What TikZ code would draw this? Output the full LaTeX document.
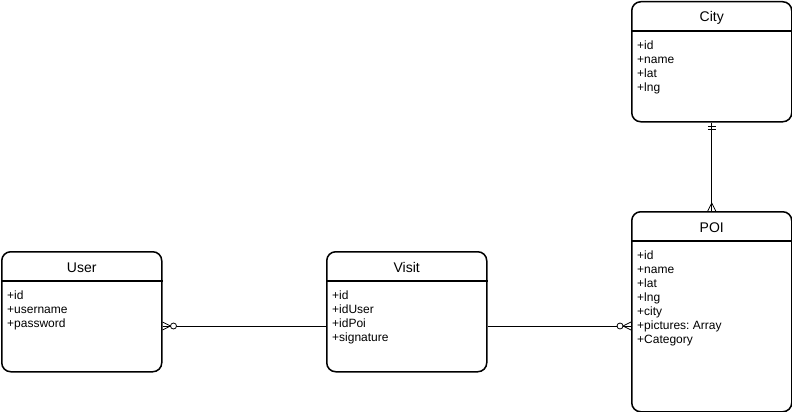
\documentclass[tikz,border=0pt]{standalone}
\usepackage{fontspec}
\setmainfont{Liberation Sans}
\usetikzlibrary{calc}
\frenchspacing
\begin{document}
\begin{tikzpicture}[x=1pt,y=-1pt,
  entity/.style={draw=black, fill=white, line width=1.5pt, rounded corners=9pt, minimum width=160pt, anchor=north west, inner sep=0pt},
  ttl/.style={font=\fontsize{14}{16}\selectfont, anchor=center, inner sep=0pt},
  attrs/.style={font=\fontsize{12}{14}\selectfont, align=left, anchor=north west, inner sep=0pt},
  sep/.style={line width=1.5pt},
  conn/.style={line width=0.8pt, line join=miter}]
\useasboundingbox (0,0) rectangle (792,412);
\fill[white] (0,0) rectangle (792,412);

% entities
\node[entity, minimum height=120pt] (user)  at (1,251)   {};
\node[entity, minimum height=120pt] (visit) at (326,251) {};
\node[entity, minimum height=120pt] (city)  at (631,1)   {};
\node[entity, minimum height=200pt] (poi)   at (631,211) {};

\foreach \e in {user,visit,city,poi}{
  \draw[sep] ([yshift=-30pt]\e.north west) -- ([yshift=-30pt]\e.north east);
}

\node[ttl] (usert)  at ([yshift=-16.5pt]user.north)  {User};
\node[ttl] (visitt) at ([yshift=-16.5pt]visit.north) {Visit};
\node[ttl] (cityt)  at ([yshift=-16.5pt]city.north)  {City};
\node[ttl] (poit)   at ([yshift=-16.5pt]poi.north)   {POI};

\node[attrs] (usera)  at ([xshift=6pt,yshift=-40pt]user.north west)  {+id\\+username\\+password};
\node[attrs] (visita) at ([xshift=6pt,yshift=-40pt]visit.north west) {+id\\+idUser\\+idPoi\\+signature};
\node[attrs] (citya)  at ([xshift=6pt,yshift=-40pt]city.north west)  {+id\\+name\\+lat\\+lng};
\node[attrs] (poia)   at ([xshift=6pt,yshift=-40pt]poi.north west)   {+id\\+name\\+lat\\+lng\\+city\\+pictures: Array\\+Category};

% User -- Visit (zero or many at User)
\coordinate (ue) at ([yshift=-75pt]user.north east);
\draw[conn] (ue) -- (ue -| visit.west);
\draw[conn] ($(ue)+(0,-4)$) -- ($(ue)+(8,0)$) -- ($(ue)+(0,4)$);
\draw[conn, fill=white] ($(ue)+(11,0)$) circle[radius=3pt];

% Visit -- POI (zero or many at POI)
\coordinate (pw) at ([yshift=-115pt]poi.north west);
\draw[conn] (pw -| visit.east) -- (pw);
\draw[conn] ($(pw)+(0,-4)$) -- ($(pw)+(-8,0)$) -- ($(pw)+(0,4)$);
\draw[conn, fill=white] ($(pw)+(-11,0)$) circle[radius=3pt];

% City -- POI (one and only one at City, many at POI)
\draw[conn] (city.south) -- (poi.north);
\draw[conn] ($(city.south)+(-4,3.5)$) -- ($(city.south)+(4,3.5)$);
\draw[conn] ($(city.south)+(-4,7)$) -- ($(city.south)+(4,7)$);
\draw[conn] ($(poi.north)+(-4,0)$) -- ($(poi.north)+(0,-8)$) -- ($(poi.north)+(4,0)$);
\end{tikzpicture}
\end{document}
